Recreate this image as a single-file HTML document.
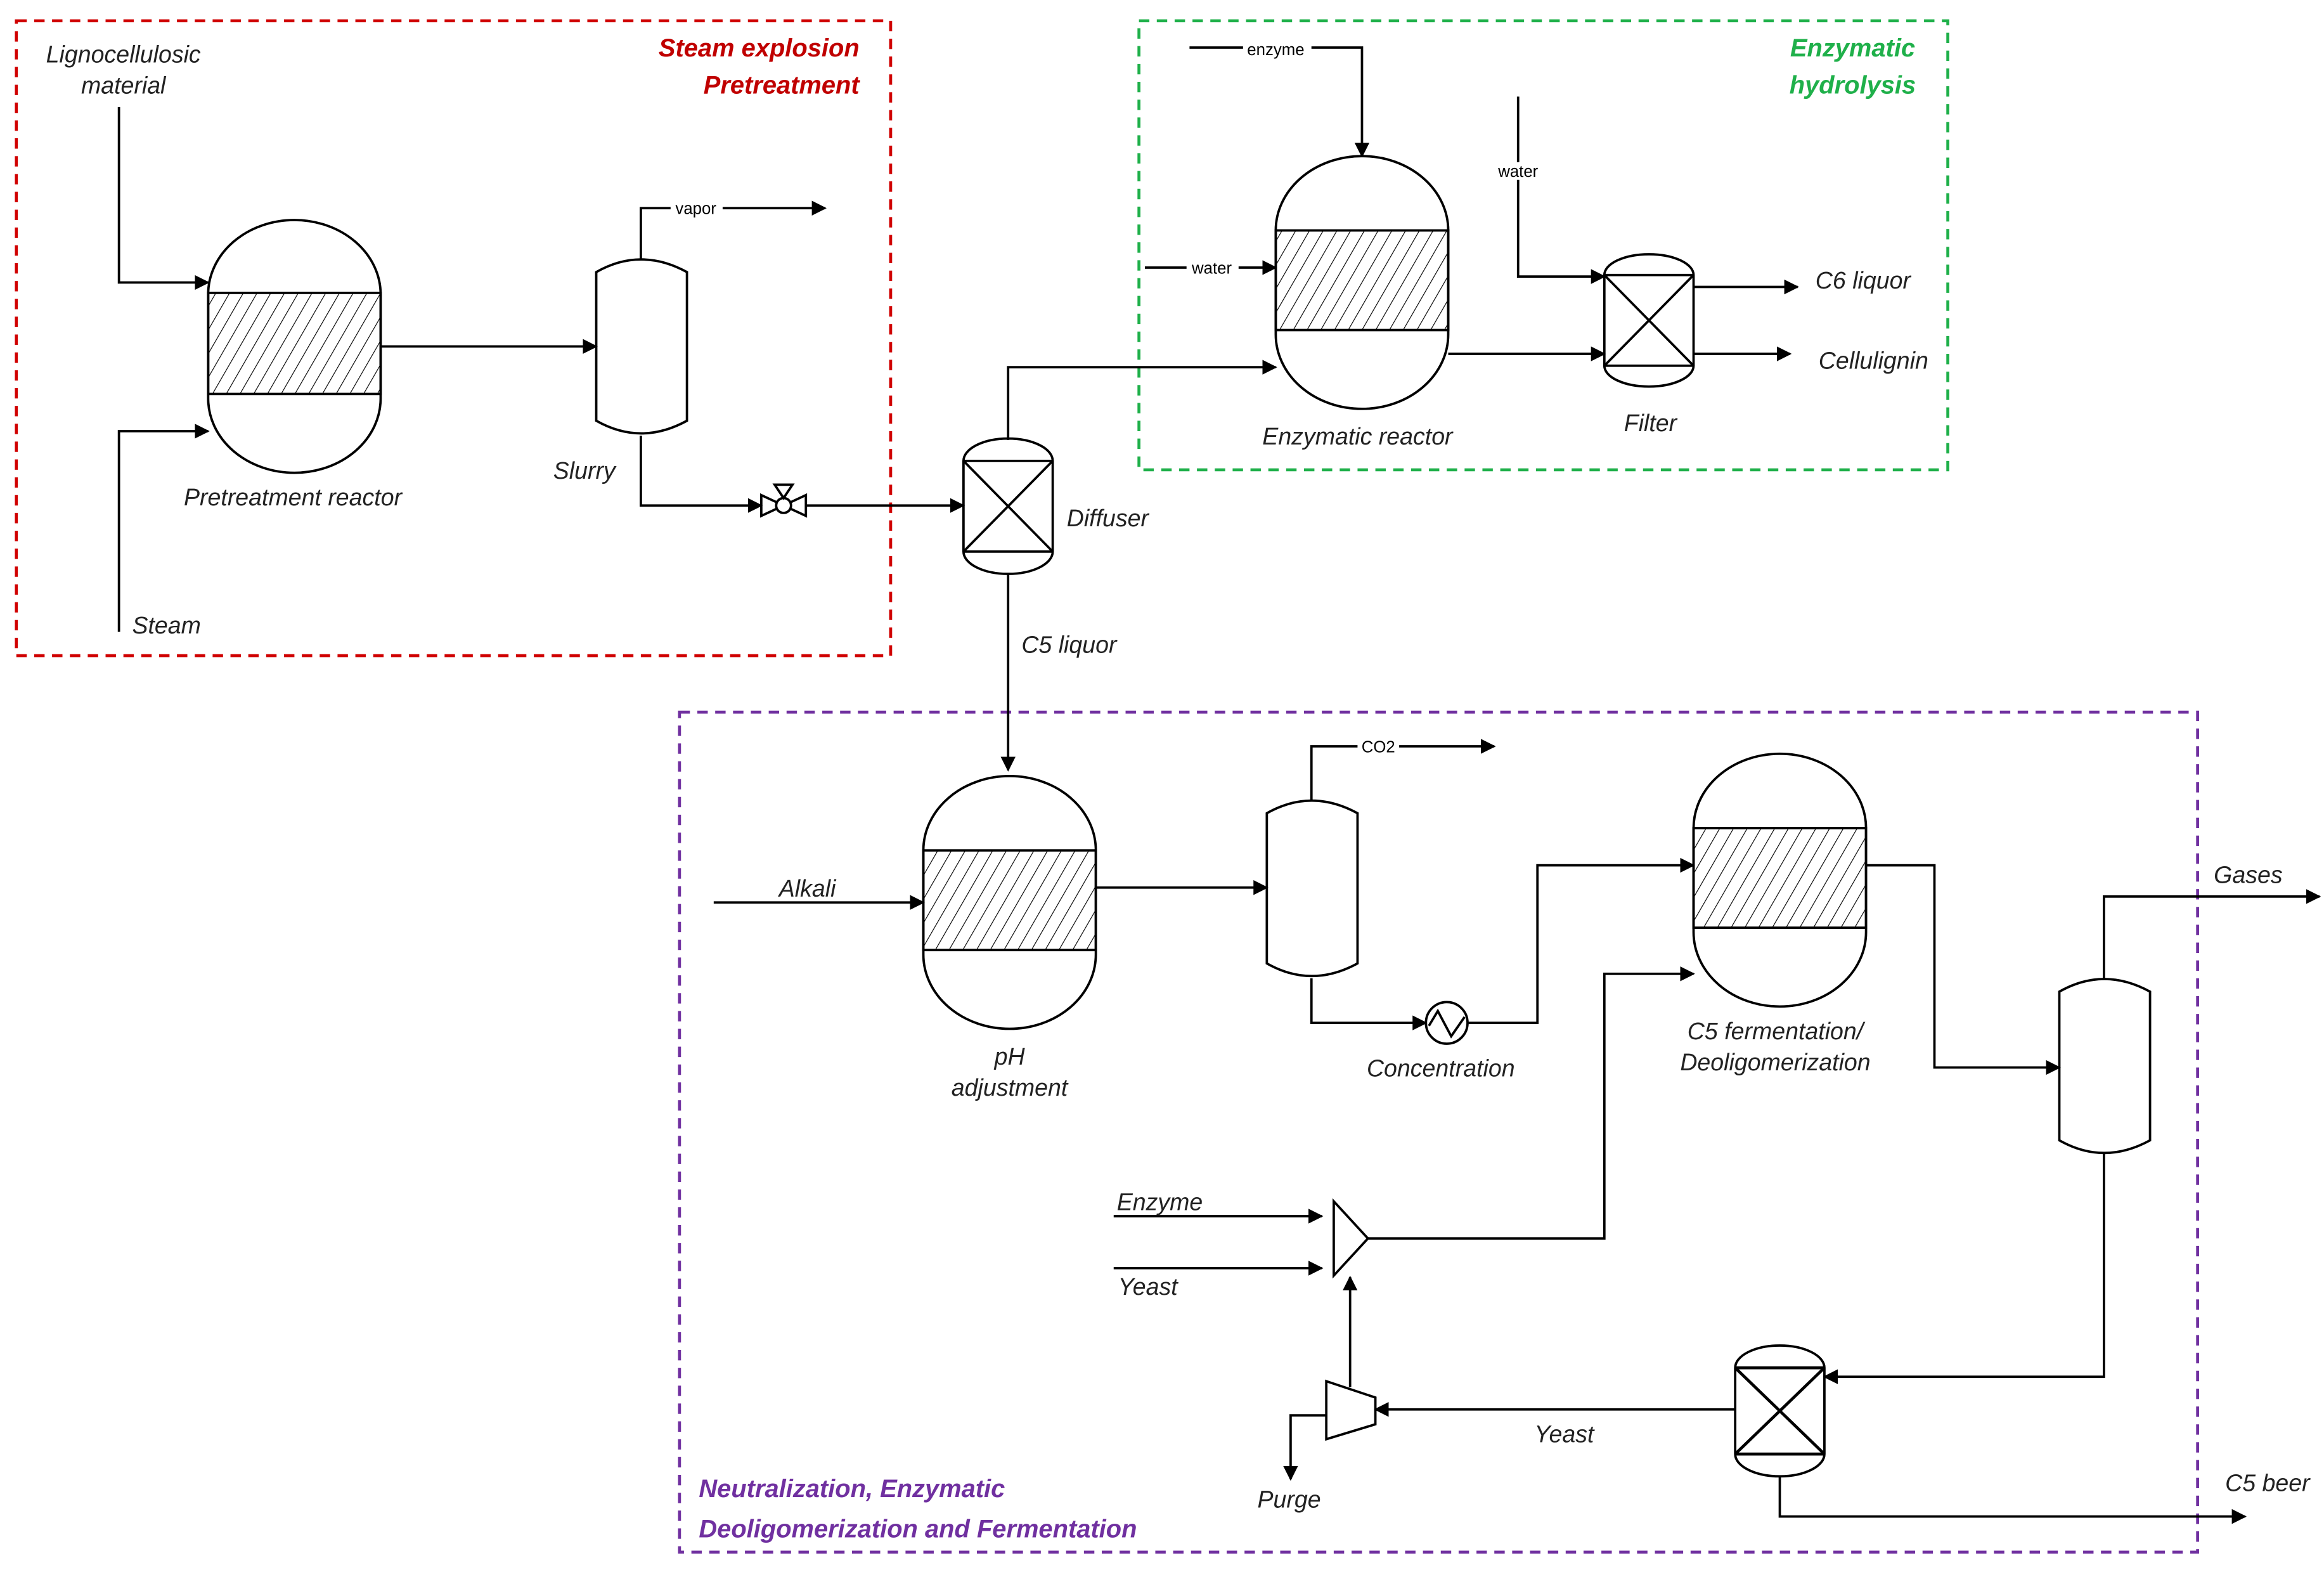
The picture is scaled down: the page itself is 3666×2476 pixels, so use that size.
<!DOCTYPE html>
<html><head><meta charset="utf-8"><style>html,body{margin:0;padding:0;background:#fff}svg{display:block}</style></head>
<body>
<svg xmlns="http://www.w3.org/2000/svg" width="3666" height="2476" viewBox="0 0 1563 1056" preserveAspectRatio="none" font-family="Liberation Sans, sans-serif">
<defs>
<pattern id="h" patternUnits="userSpaceOnUse" width="8" height="8" patternTransform="rotate(30)">
<line x1="0" y1="0" x2="0" y2="8" stroke="#000" stroke-width="1"/>
</pattern>
<marker id="a" markerWidth="10" markerHeight="10" refX="9" refY="5" orient="auto" markerUnits="userSpaceOnUse">
<path d="M0,0 L10,5 L0,10 Z" fill="#000"/>
</marker>
</defs>
<rect width="1563" height="1056" fill="#fff"/>
<g fill="none" stroke-width="2" stroke-dasharray="7,5">
<rect x="11" y="14" width="588" height="427" stroke="#d00000"/>
<rect x="766" y="14" width="544" height="302" stroke="#1fb04a"/>
<rect x="457" y="479" width="1021" height="565" stroke="#7030a0"/>
</g>
<g stroke="#000" stroke-width="1.6" fill="#fff">
<!-- reactors -->
<path d="M140,198 L140,268 A58,50 0 0 0 256,268 L256,198 A58,50 0 0 0 140,198 Z"/>
<rect x="140" y="197" width="116" height="68" fill="url(#h)"/>
<path d="M858,155 L858,225 A58,50 0 0 0 974,225 L974,155 A58,50 0 0 0 858,155 Z"/>
<rect x="858" y="155" width="116" height="67" fill="url(#h)"/>
<path d="M621,572 L621,642 A58,50 0 0 0 737,642 L737,572 A58,50 0 0 0 621,572 Z"/>
<rect x="621" y="572" width="116" height="67" fill="url(#h)"/>
<path d="M1139,557 L1139,627 A58,50 0 0 0 1255,627 L1255,557 A58,50 0 0 0 1139,557 Z"/>
<rect x="1139" y="557" width="116" height="67" fill="url(#h)"/>
<!-- drums -->
<path d="M401,183 Q431,166 462,183 L462,283 Q431,300 401,283 Z"/>
<path d="M852,547 Q882,530 913,547 L913,648 Q882,665 852,648 Z"/>
<path d="M1385,667 Q1415,650 1446,667 L1446,767 Q1415,784 1385,767 Z"/>
<!-- diffuser / filters -->
<path d="M648,310 A30,15 0 0 1 708,310 L708,371 A30,15 0 0 1 648,371 Z"/>
<path d="M648,310 L708,310 M648,371 L708,371 M648,310 L708,371 M708,310 L648,371"/>
<path d="M1079,185 A30,14 0 0 1 1139,185 L1139,246 A30,14 0 0 1 1079,246 Z"/>
<path d="M1079,185 L1139,185 M1079,246 L1139,246 M1079,185 L1139,246 M1139,185 L1079,246"/>
<path d="M1167,920 A30,15 0 0 1 1227,920 L1227,978 A30,15 0 0 1 1167,978 Z"/>
<path d="M1167,920 L1227,920 M1167,978 L1227,978 M1167,920 L1227,978 M1227,920 L1167,978" stroke-width="2"/>
<!-- valve -->
<path d="M512,333 L527,340 L512,347 Z M542,333 L527,340 L542,347 Z"/>
<circle cx="527" cy="340" r="5"/>
<path d="M521,326 L533,326 L527,335 Z"/>
<!-- heat exchanger -->
<circle cx="973" cy="688" r="14"/>
<path d="M961,690 L967,680 L976,697 L985,684" fill="none"/>
<!-- mixer / splitter -->
<path d="M897,808 L920,833 L897,858 Z"/>
<path d="M892,929 L925,940 L925,958 L892,968 Z"/>
</g>
<g stroke="#000" stroke-width="1.6" fill="none" marker-end="url(#a)">
<path d="M80,72 L80,190 L140,190"/>
<path d="M80,425 L80,290 L140,290"/>
<path d="M256,233 L401,233"/>
<path d="M431,174 L431,140 L555,140"/>
<path d="M431,293 L431,340 L512,340"/>
<path d="M542,340 L648,340"/>
<path d="M678,296 L678,247 L858,247"/>
<path d="M678,386 L678,518"/>
<path d="M800,32 L916,32 L916,105"/>
<path d="M770,180 L858,180"/>
<path d="M1021,65 L1021,186 L1079,186"/>
<path d="M974,238 L1079,238"/>
<path d="M1139,193 L1209,193"/>
<path d="M1139,238 L1204,238"/>
<path d="M480,607 L621,607"/>
<path d="M737,597 L852,597"/>
<path d="M882,538 L882,502 L1005,502"/>
<path d="M882,658 L882,688 L959,688"/>
<path d="M987,688 L1034,688 L1034,582 L1139,582"/>
<path d="M749,818 L889,818"/>
<path d="M749,853 L889,853"/>
<path d="M920,833 L1079,833 L1079,655 L1139,655"/>
<path d="M1255,582 L1301,582 L1301,718 L1385,718"/>
<path d="M1415,658 L1415,603 L1560,603"/>
<path d="M1415,776 L1415,926 L1227,926"/>
<path d="M1167,948 L925,948"/>
<path d="M908,933 L908,859"/>
<path d="M892,952 L868,952 L868,995"/>
<path d="M1197,993 L1197,1020 L1510,1020"/>
</g>
<g font-size="11" fill="#000" text-anchor="middle">
<rect x="451" y="134" width="35" height="12" fill="#fff"/><text x="468" y="144">vapor</text>
<rect x="836" y="27" width="46" height="12" fill="#fff"/><text x="858" y="37">enzyme</text>
<rect x="798" y="174" width="35" height="12" fill="#fff"/><text x="815" y="184">water</text>
<rect x="1004" y="109" width="35" height="12" fill="#fff"/><text x="1021" y="119">water</text>
<rect x="913" y="496" width="28" height="12" fill="#fff"/><text x="927" y="506">CO2</text>
</g>
<g font-size="16" font-style="italic" fill="#222" text-anchor="middle">
<text x="83" y="42">Lignocellulosic</text><text x="83" y="63">material</text>
<text x="112" y="426">Steam</text>
<text x="197" y="340">Pretreatment reactor</text>
<text x="393" y="322">Slurry</text>
<text x="745" y="354">Diffuser</text>
<text x="719" y="439">C5 liquor</text>
<text x="913" y="299">Enzymatic reactor</text>
<text x="1110" y="290">Filter</text>
<text x="1253" y="194">C6 liquor</text>
<text x="1260" y="248">Cellulignin</text>
<text x="543" y="603">Alkali</text>
<text x="679" y="716">pH</text><text x="679" y="737">adjustment</text>
<text x="969" y="724">Concentration</text>
<text x="1194" y="699">C5 fermentation/</text><text x="1194" y="720">Deoligomerization</text>
<text x="1512" y="594">Gases</text>
<text x="780" y="814">Enzyme</text>
<text x="772" y="871">Yeast</text>
<text x="1052" y="970">Yeast</text>
<text x="867" y="1014">Purge</text>
<text x="1525" y="1003">C5 beer</text>
</g>
<g font-size="17" font-style="italic" font-weight="bold">
<text x="578" y="38" fill="#c00000" text-anchor="end">Steam explosion</text>
<text x="578" y="63" fill="#c00000" text-anchor="end">Pretreatment</text>
<text x="1246" y="38" fill="#1fb04a" text-anchor="middle">Enzymatic</text>
<text x="1246" y="63" fill="#1fb04a" text-anchor="middle">hydrolysis</text>
<text x="470" y="1007" fill="#7030a0">Neutralization, Enzymatic</text>
<text x="470" y="1034" fill="#7030a0">Deoligomerization and Fermentation</text>
</g>
</svg>
</body></html>
